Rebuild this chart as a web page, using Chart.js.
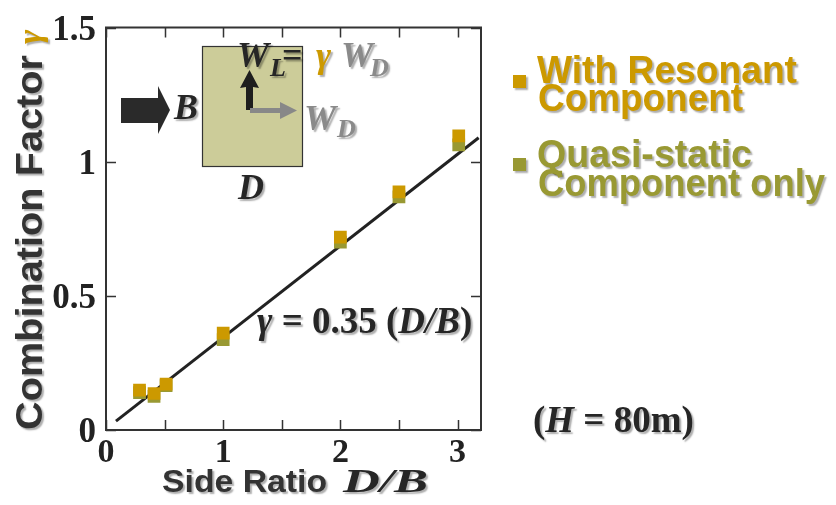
<!DOCTYPE html>
<html>
<head>
<meta charset="utf-8">
<script src="https://cdn.jsdelivr.net/npm/chart.js@4.4.1/dist/chart.umd.min.js"></script>
<style>
  html, body { margin: 0; padding: 0; background: #ffffff; }
  #wrap { width: 836px; height: 505px; }
</style>
</head>
<body>
<div id="wrap"><canvas id="c" width="836" height="505"></canvas></div>
<script>
// ---- data ----
const sideRatio        = [0.286, 0.41, 0.513, 1.0, 2.0, 2.5, 3.01];
const gammaResonant    = [0.149, 0.136, 0.171, 0.361, 0.719, 0.887, 1.096];
const gammaQuasiStatic = [0.139, 0.125, 0.165, 0.337, 0.700, 0.869, 1.063];
const fitLineX = [0.085, 3.18];
const fitLineY = [0.033, 1.089];
const xTickLabels = ['0', '1', '2', '3'];
const yTickLabels = ['0', '0.5', '1', '1.5'];
const legendLines = [['With Resonant', 'Component'], ['Quasi-static', 'Component only']];

const ORANGE = '#CC9900';
const OLIVE = '#999933';
const DARK = '#262626';
const GRAY = '#8a8a8a';
const SERIF = '"Liberation Serif", "Times New Roman", serif';
const SANS = '"Liberation Sans", Arial, sans-serif';

function shadowOn(ctx) {
  ctx.shadowColor = 'rgba(0,0,0,0.32)';
  ctx.shadowOffsetX = 2;
  ctx.shadowOffsetY = 2;
  ctx.shadowBlur = 1.5;
}
function shadowOff(ctx) {
  ctx.shadowColor = 'rgba(0,0,0,0)';
  ctx.shadowOffsetX = 0; ctx.shadowOffsetY = 0; ctx.shadowBlur = 0;
}
// draw text scaled horizontally so that it spans targetW (if given)
function fitText(ctx, text, font, color, x, y, targetW) {
  ctx.font = font;
  ctx.fillStyle = color;
  const w = ctx.measureText(text).width;
  const sx = targetW ? targetW / w : 1;
  ctx.save();
  ctx.translate(x, y);
  ctx.scale(sx, 1);
  ctx.fillText(text, 0, 0);
  ctx.restore();
  return w * sx;
}
function runs(ctx, x, y, parts) {
  let cx = x;
  parts.forEach(p => {
    ctx.font = p.font;
    ctx.fillStyle = p.color;
    ctx.fillText(p.t, cx, y + (p.dy || 0));
    cx += ctx.measureText(p.t).width + (p.gap || 0);
  });
  return cx;
}
function poly(ctx, pts, color) {
  ctx.beginPath();
  ctx.moveTo(pts[0][0], pts[0][1]);
  for (let i = 1; i < pts.length; i++) ctx.lineTo(pts[i][0], pts[i][1]);
  ctx.closePath();
  ctx.fillStyle = color;
  ctx.fill();
}

const frameTicks = {
  id: 'frameTicks',
  afterDatasetsDraw(chart) {
    const { ctx, chartArea: a, scales: { x, y } } = chart;
    ctx.save();
    ctx.strokeStyle = '#333';
    ctx.lineWidth = 1.5;
    ctx.beginPath();
    x.ticks.forEach(t => {
      const px = Math.round(x.getPixelForValue(t.value)) + 0.5;
      ctx.moveTo(px, a.bottom); ctx.lineTo(px, a.bottom - 10);
      ctx.moveTo(px, a.top); ctx.lineTo(px, a.top + 10);
    });
    y.ticks.forEach(t => {
      const py = Math.round(y.getPixelForValue(t.value)) + 0.5;
      ctx.moveTo(a.left, py); ctx.lineTo(a.left + 10, py);
      ctx.moveTo(a.right, py); ctx.lineTo(a.right - 10, py);
    });
    ctx.stroke();
    ctx.lineWidth = 2;
    ctx.strokeRect(a.left, a.top, a.right - a.left, a.bottom - a.top);
    ctx.restore();
  }
};

const annotations = {
  id: 'annotations',
  afterDraw(chart) {
    const ctx = chart.ctx;
    ctx.save();
    ctx.textBaseline = 'alphabetic';
    ctx.textAlign = 'left';

    // inset building plan
    ctx.fillStyle = '#CCCC99';
    ctx.fillRect(202, 46, 100, 120);
    ctx.strokeStyle = '#333';
    ctx.lineWidth = 1.2;
    ctx.strokeRect(202.5, 46.5, 100, 120);

    // wind arrow
    poly(ctx, [[121, 98], [158, 98], [158, 86], [170, 110], [158, 134], [158, 123], [121, 123]], '#2a2a2a');
    // lift arrow (up, black)
    poly(ctx, [[246, 110], [246, 87], [240, 88], [249.5, 70], [259, 88], [253, 87], [253, 110]], '#1e1e1e');
    // drag arrow (right, gray)
    poly(ctx, [[250, 108], [280, 108], [280, 102], [297, 110.5], [280, 119], [280, 113], [250, 113]], '#888888');

    shadowOn(ctx);
    const BI = s => 'italic bold ' + s + 'px ' + SERIF;
    const B = s => 'bold ' + s + 'px ' + SERIF;
    // B and D labels
    fitText(ctx, 'B', BI(36), DARK, 174, 119);
    fitText(ctx, 'D', BI(36), DARK, 238, 199);
    // W_L = γ W_D
    fitText(ctx, 'W', BI(36), DARK, 237, 67);
    fitText(ctx, 'L', BI(26), DARK, 270, 76);
    fitText(ctx, '=', B(36), DARK, 282, 67);
    fitText(ctx, 'γ', 'italic bold 36px ' + SERIF, ORANGE, 316, 67);
    fitText(ctx, 'W', BI(36), GRAY, 341, 67);
    fitText(ctx, 'D', BI(26), GRAY, 370, 76);
    // W_D at drag arrow
    fitText(ctx, 'W', BI(36), GRAY, 304, 130);
    fitText(ctx, 'D', BI(26), GRAY, 337, 137);

    // fit equation
    ctx.save();
    const eqParts = [
      { t: 'γ', font: BI(37), color: DARK },
      { t: ' = 0.35 (', font: B(37), color: DARK },
      { t: 'D/B', font: BI(37), color: DARK },
      { t: ')', font: B(37), color: DARK }
    ];
    runs(ctx, 257, 333, eqParts);
    ctx.restore();

    // (H = 80m)
    runs(ctx, 533, 432, [
      { t: '(', font: B(37), color: DARK },
      { t: 'H', font: BI(37), color: DARK },
      { t: ' = 80m)', font: B(37), color: DARK }
    ]);

    // x axis title
    fitText(ctx, 'Side Ratio', 'bold 31px ' + SANS, '#333', 162, 492, 165);
    fitText(ctx, 'D/B', BI(33), DARK, 343, 492, 85);

    // y axis title (rotated)
    ctx.save();
    ctx.translate(42, 430);
    ctx.rotate(-Math.PI / 2);
    fitText(ctx, 'Combination Factor', 'bold 37px ' + SANS, '#333', 0, 0, 375);
    fitText(ctx, 'γ', 'italic bold 34px ' + SERIF, ORANGE, 386, -1);
    ctx.restore();

    // legend
    const legColors = [ORANGE, OLIVE];
    const legY = [[83, 111], [167, 196]];
    const legW = [[260, 205], [215, 287]];
    const legSq = [75, 158];
    for (let i = 0; i < 2; i++) {
      ctx.fillStyle = legColors[i];
      ctx.fillRect(513, legSq[i], 13, 13);
      fitText(ctx, legendLines[i][0], 'bold 38px ' + SANS, legColors[i], 537, legY[i][0], legW[i][0]);
      fitText(ctx, legendLines[i][1], 'bold 38px ' + SANS, legColors[i], 538, legY[i][1], legW[i][1]);
    }
    shadowOff(ctx);
    ctx.restore();
  }
};

const toPts = (xs, ys) => xs.map((x, i) => ({ x: x, y: ys[i] }));

new Chart(document.getElementById('c'), {
  type: 'scatter',
  data: {
    datasets: [
      {
        label: 'With Resonant Component',
        data: toPts(sideRatio, gammaResonant),
        pointStyle: 'rect',
        pointRadius: 9,
        pointHoverRadius: 9,
        backgroundColor: ORANGE,
        borderWidth: 0,
        order: 0
      },
      {
        label: 'Quasi-static Component only',
        data: toPts(sideRatio, gammaQuasiStatic),
        pointStyle: 'rect',
        pointRadius: 9,
        pointHoverRadius: 9,
        backgroundColor: OLIVE,
        borderWidth: 0,
        order: 1
      },
      {
        type: 'line',
        label: 'fit',
        data: toPts(fitLineX, fitLineY),
        borderColor: '#222222',
        borderWidth: 3,
        pointRadius: 0,
        fill: false,
        order: 2
      }
    ]
  },
  options: {
    responsive: false,
    animation: false,
    devicePixelRatio: 1,
    layout: { padding: { top: 21, right: 355, bottom: 0, left: 0 } },
    plugins: { legend: { display: false }, tooltip: { enabled: false } },
    events: [],
    scales: {
      x: {
        type: 'linear',
        min: 0, max: 3.2,
        grid: { display: false, drawTicks: false },
        border: { display: false },
        ticks: {
          stepSize: 0.5,
          includeBounds: false,
          autoSkip: false,
          maxRotation: 0,
          padding: 6,
          color: '#222',
          font: { family: SERIF, weight: 'bold', size: 34, lineHeight: 1 },
          callback: v => (Math.abs(v - Math.round(v)) < 1e-6 ? xTickLabels[Math.round(v)] : '')
        },
        afterFit: s => { s.height = 75; }
      },
      y: {
        type: 'linear',
        min: 0, max: 1.5,
        grid: { display: false, drawTicks: false },
        border: { display: false },
        ticks: {
          stepSize: 0.5,
          autoSkip: false,
          padding: 10,
          labelOffset: 3,
          color: '#222',
          font: { family: SERIF, weight: 'bold', size: 35, lineHeight: 1 },
          callback: v => yTickLabels[Math.round(v * 2)]
        },
        afterFit: s => { s.width = 106; }
      }
    }
  },
  plugins: [frameTicks, annotations]
});
</script>
</body>
</html>
